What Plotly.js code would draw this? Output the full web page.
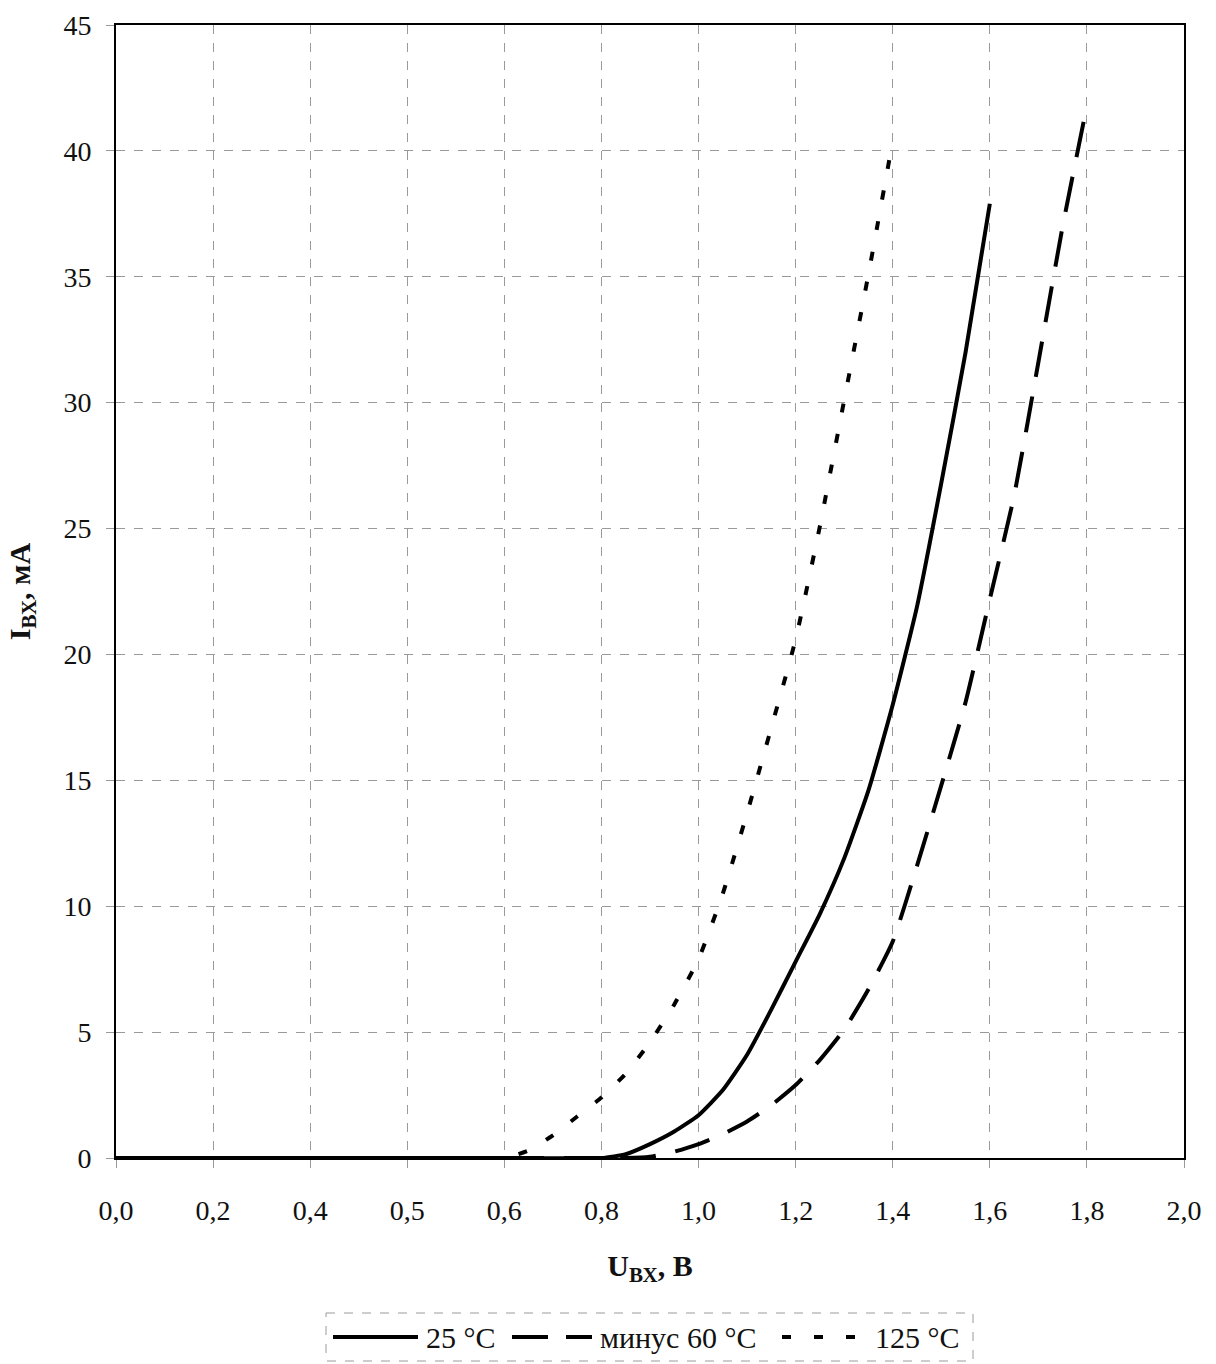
<!DOCTYPE html>
<html>
<head>
<meta charset="utf-8">
<script src="https://cdn.plot.ly/plotly-3.0.1.min.js"></script>
<style>html,body{margin:0;padding:0;background:#fff;}#chart{width:1216px;height:1364px;}</style>
</head>
<body>
<div id="chart"></div>
<script>
// Category tick labels of the x axis (equally spaced categories) and their voltages
const categories = ['0,0','0,2','0,4','0,5','0,6','0,8','1,0','1,2','1,4','1,6','1,8','2,0'];
const catVolts   = [0, 0.2, 0.4, 0.5, 0.6, 0.8, 1.0, 1.2, 1.4, 1.6, 1.8, 2.0];

// 25 °C
const u25 = [0, 0.2, 0.4, 0.5, 0.6, 0.8, 0.85, 0.9, 0.95, 1.0, 1.05, 1.1, 1.15, 1.2, 1.25, 1.3, 1.35, 1.4, 1.45, 1.5, 1.55, 1.6];
const i25 = [0, 0, 0, 0, 0, 0, 0.15, 0.55, 1.05, 1.7, 2.7, 4.1, 5.9, 7.8, 9.7, 11.9, 14.6, 18.0, 21.9, 26.8, 32.0, 37.9];

// минус 60 °C
const uM60 = [0, 0.2, 0.4, 0.5, 0.6, 0.8, 0.85, 0.9, 0.95, 1.0, 1.05, 1.1, 1.15, 1.2, 1.25, 1.3, 1.35, 1.4, 1.45, 1.5, 1.55, 1.6, 1.65, 1.7, 1.75, 1.8];
const iM60 = [0, 0, 0, 0, 0, 0, 0, 0.05, 0.25, 0.55, 0.95, 1.45, 2.1, 2.9, 3.9, 5.1, 6.7, 8.6, 11.6, 14.8, 18.1, 22.2, 26.3, 31.6, 37.0, 41.8];

// 125 °C
const u125 = [0, 0.2, 0.4, 0.5, 0.6, 0.65, 0.7, 0.75, 0.8, 0.85, 0.9, 0.95, 1.0, 1.05, 1.1, 1.15, 1.2, 1.25, 1.3, 1.35, 1.4];
const i125 = [0, 0, 0, 0, 0, 0.3, 0.9, 1.65, 2.4, 3.35, 4.6, 6.1, 7.9, 10.5, 13.7, 17.1, 20.6, 25.1, 30.1, 35.1, 40.4];

const seriesNames = ['25 °C', 'минус 60 °C', '125 °C'];
const yTicks = [0, 5, 10, 15, 20, 25, 30, 35, 40, 45];

// map a voltage onto the equally spaced category scale
function catPos(v) {
  for (let k = 0; k < catVolts.length - 1; k++) {
    const a = catVolts[k], b = catVolts[k + 1];
    if (v >= a && v <= b) return k + (v - a) / (b - a);
  }
  return catVolts.length - 1;
}

const FONT = '"Liberation Serif", "Times New Roman", Times, serif';
const DASHES = ['solid', '36px,20px', '9px,22px'];
const lineCommon = {color: '#000', width: 4, shape: 'spline', smoothing: 0.5};

const xs = [u25, uM60, u125], ys = [i25, iM60, i125];
const traces = xs.map((u, k) => ({
  x: u.map(catPos), y: ys[k], name: seriesNames[k], mode: 'lines', type: 'scatter',
  showlegend: false,
  line: Object.assign({}, lineCommon, {dash: DASHES[k]})
}));

// plot area geometry (pixels) used to place the framed legend below the chart
const W = 1216, H = 1364, M = {l: 116, r: 32, t: 25, b: 206};
const PW = W - M.l - M.r, PH = H - M.t - M.b;
const px = v => (v - M.l) / PW;
const py = v => (H - M.b - v) / PH;

const legendY = 1337;
const legendItems = [
  {x0: 333, x1: 418, dash: 'solid', tx: 424},
  {x0: 512, x1: 592, dash: '36px,18px', tx: 598},
  {x0: 782, x1: 855, dash: '9px,23px', tx: 873}
];
const shapes = [
  {type: 'rect', xref: 'paper', yref: 'paper', x0: px(326), x1: px(973), y0: py(1313), y1: py(1361),
   line: {color: '#9a9a9a', width: 1, dash: 'dash'}, fillcolor: 'rgba(0,0,0,0)'}
];
const annotations = [];
legendItems.forEach((it, k) => {
  shapes.push({type: 'line', xref: 'paper', yref: 'paper', x0: px(it.x0), x1: px(it.x1),
    y0: py(legendY), y1: py(legendY), line: {color: '#000', width: 4, dash: it.dash}});
  annotations.push({xref: 'paper', yref: 'paper', x: px(it.tx), y: py(legendY), xanchor: 'left', yanchor: 'middle',
    text: seriesNames[k], showarrow: false, font: {family: FONT, size: 30, color: '#111'}});
});

const axisCommon = {
  showgrid: true, gridcolor: '#9a9a9a', gridwidth: 1, griddash: 'dash',
  showline: true, linecolor: '#000', linewidth: 2, mirror: true,
  ticks: 'outside', ticklen: 8, tickwidth: 1, tickcolor: '#9a9a9a',
  zeroline: false,
  tickfont: {family: FONT, size: 28, color: '#111'}
};

const layout = {
  width: W, height: H,
  margin: M,
  paper_bgcolor: '#fff', plot_bgcolor: '#fff',
  font: {family: FONT, color: '#111'},
  showlegend: false,
  shapes: shapes,
  annotations: annotations,
  xaxis: Object.assign({}, axisCommon, {
    range: [0, categories.length - 1],
    tickmode: 'array',
    tickvals: categories.map((c, k) => k),
    ticktext: categories,
    ticklabelstandoff: 18,
    title: {text: '<b>U<sub>ВХ</sub>, В</b>', font: {family: FONT, size: 30, color: '#111'}, standoff: 30}
  }),
  yaxis: Object.assign({}, axisCommon, {
    range: [0, 45],
    tickmode: 'array',
    tickvals: yTicks,
    ticktext: yTicks.map(String),
    ticklabelstandoff: 9,
    title: {text: '<b>I<sub>ВХ</sub>, мА</b>', font: {family: FONT, size: 30, color: '#111'}, standoff: 24}
  })
};

Plotly.newPlot('chart', traces, layout, {displayModeBar: false, staticPlot: true});
</script>
</body>
</html>
